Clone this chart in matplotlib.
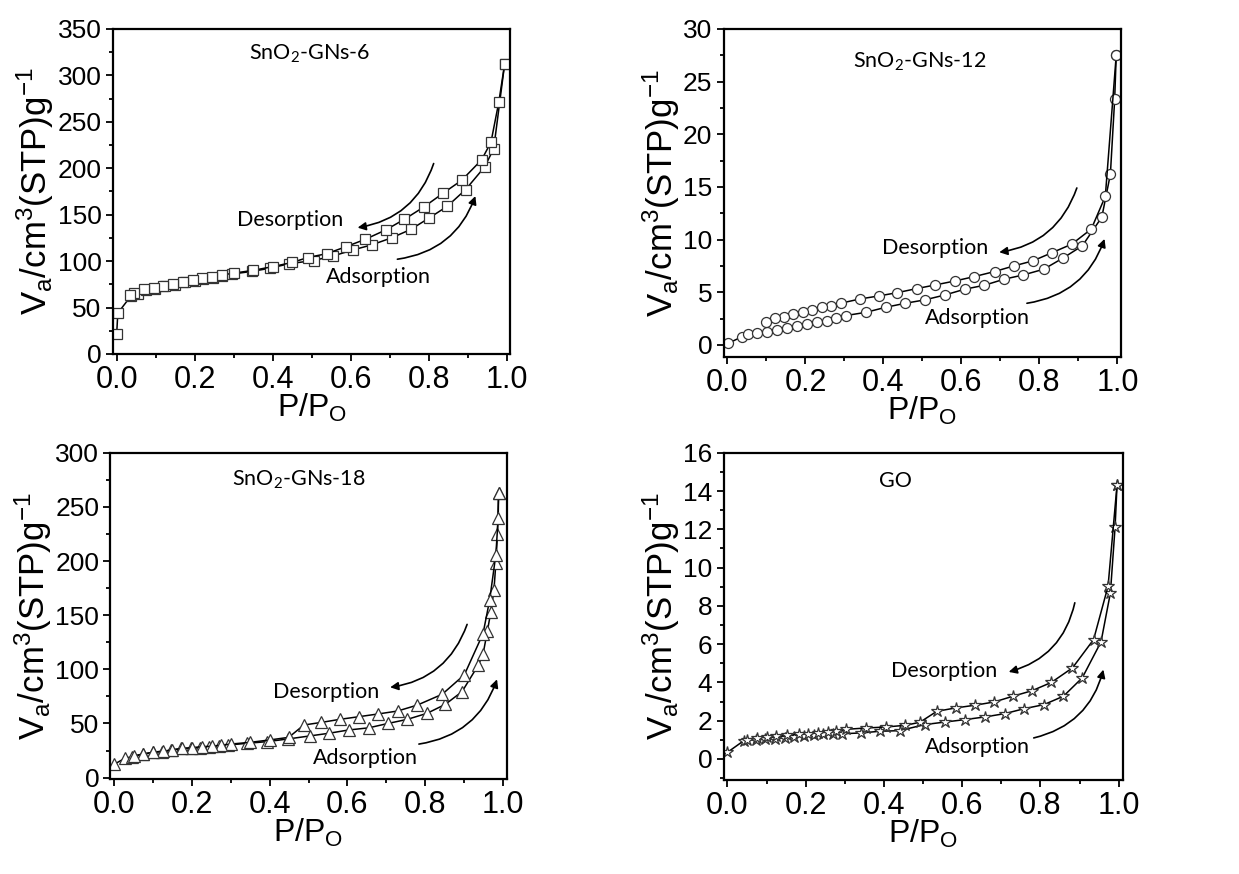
import matplotlib
matplotlib.use('Agg')
import matplotlib.pyplot as plt
from matplotlib.ticker import MultipleLocator

plt.rcParams['font.family'] = ['Liberation Sans', 'DejaVu Sans']
plt.rcParams['mathtext.default'] = 'regular'

# SnO2-GNs-6
ads6_p = [0.0, 0.003, 0.037, 0.054, 0.075, 0.098, 0.124, 0.15, 0.175, 0.2, 0.222, 0.246, 0.27, 0.295,
          0.346, 0.393, 0.443, 0.505, 0.556, 0.606, 0.654, 0.705, 0.754, 0.8, 0.848, 0.895, 0.944, 0.967, 0.995]
ads6_v = [21, 44, 62.6, 64.8, 68.4, 70, 72.7, 74.4, 77, 78.7, 80.5, 82.3, 84, 86,
          88.8, 92.3, 97.2, 100.6, 105.6, 112, 117.4, 125, 134, 146, 159, 177, 201.5, 221, 312]
des6_p = [0.995, 0.98, 0.96, 0.936, 0.885, 0.837, 0.787, 0.738, 0.69, 0.638, 0.589, 0.539, 0.49, 0.45,
          0.40, 0.35, 0.30, 0.27, 0.245, 0.22, 0.195, 0.17, 0.145, 0.12, 0.095, 0.07, 0.045, 0.035]
des6_v = [312, 271, 228, 209, 187, 173, 158, 145, 133.5, 123.5, 115.6, 108, 103.8, 98.5,
          94, 90, 87, 85, 83, 81.3, 79.5, 77.5, 75.5, 73.5, 71.5, 69.5, 66, 63.5]

# SnO2-GNs-12
ads12_p = [0.002, 0.038, 0.052, 0.075, 0.102, 0.128, 0.152, 0.179, 0.203, 0.229, 0.254, 0.278, 0.303,
           0.355, 0.406, 0.456, 0.506, 0.558, 0.608, 0.659, 0.709, 0.759, 0.811, 0.86, 0.91, 0.96,
           0.982, 0.993, 0.997]
ads12_v = [0.16, 0.8, 1.0, 1.17, 1.27, 1.43, 1.58, 1.8, 1.96, 2.2, 2.3, 2.53, 2.79,
           3.1, 3.58, 3.96, 4.28, 4.75, 5.29, 5.67, 6.24, 6.65, 7.19, 8.24, 9.41, 12.13,
           16.2, 23.3, 27.5]
des12_p = [0.997, 0.969, 0.933, 0.883, 0.833, 0.783, 0.734, 0.685, 0.633, 0.584, 0.533, 0.485,
           0.436, 0.389, 0.34, 0.29, 0.266, 0.242, 0.218, 0.194, 0.169, 0.145, 0.121, 0.098]
des12_v = [27.5, 14.1, 11.0, 9.57, 8.77, 7.98, 7.5, 6.97, 6.49, 6.08, 5.7, 5.35,
           4.97, 4.66, 4.37, 3.96, 3.74, 3.58, 3.33, 3.1, 2.91, 2.69, 2.53, 2.22]

# SnO2-GNs-18
ads18_p = [0.0, 0.027, 0.047, 0.075, 0.1, 0.123, 0.147, 0.173, 0.197, 0.22, 0.244, 0.269, 0.293,
           0.342, 0.392, 0.447, 0.503, 0.553, 0.603, 0.655, 0.704, 0.754, 0.805, 0.852, 0.895,
           0.937, 0.949, 0.96, 0.969, 0.977, 0.982, 0.986, 0.989]
ads18_v = [12.3, 17.8, 19.4, 21.5, 23.4, 24, 25.5, 27, 27, 27.7, 28.6, 29.5, 30.1,
           31.7, 33.2, 35.7, 38.5, 41, 44, 46, 50, 53.8, 59.4, 67.7, 79.4,
           104, 114, 135, 153, 173, 198, 225, 263]
des18_p = [0.989, 0.988, 0.982, 0.966, 0.949, 0.901, 0.844, 0.78, 0.729, 0.679, 0.63, 0.58, 0.533,
           0.488, 0.449, 0.40, 0.35, 0.30, 0.276, 0.252, 0.227, 0.2, 0.175, 0.15, 0.125, 0.1, 0.075, 0.05]
des18_v = [263, 240, 206, 164, 133, 95, 77, 67, 61.5, 58.8, 56.3, 53.8, 51,
           48.6, 37.2, 34.8, 32.6, 31, 30, 29, 28.6, 27.7, 27, 25.5, 24.5, 23.5, 22, 20]

# GO
adsGO_p = [0.0, 0.042, 0.072, 0.097, 0.122, 0.147, 0.171, 0.195, 0.22, 0.243, 0.269, 0.293, 0.342,
           0.39, 0.44, 0.505, 0.556, 0.608, 0.659, 0.709, 0.759, 0.809, 0.859, 0.907, 0.955, 0.979,
           0.991, 0.996]
adsGO_v = [0.35, 0.96, 1.01, 1.03, 1.05, 1.1, 1.13, 1.22, 1.24, 1.29, 1.32, 1.32, 1.36,
           1.45, 1.48, 1.8, 1.93, 2.06, 2.2, 2.37, 2.63, 2.84, 3.28, 4.24, 6.12, 8.68,
           12.13, 14.34]
desGO_p = [0.996, 0.973, 0.936, 0.882, 0.828, 0.779, 0.73, 0.682, 0.633, 0.584, 0.535, 0.492, 0.455,
           0.404, 0.355, 0.303, 0.278, 0.256, 0.232, 0.206, 0.182, 0.153, 0.125, 0.102, 0.076, 0.05]
desGO_v = [14.34, 9.03, 6.24, 4.76, 4.0, 3.57, 3.28, 2.98, 2.81, 2.67, 2.49, 1.92, 1.76,
           1.67, 1.62, 1.55, 1.45, 1.41, 1.36, 1.32, 1.29, 1.24, 1.18, 1.15, 1.1, 1.0]

panels = [
    dict(rect=[0.091, 0.595, 0.321, 0.372], ads=(ads6_p, ads6_v), des=(des6_p, des6_v),
         marker='s', ms=6.8, ylim=(0, 350), major=50, minor=25,
         name='SnO$_2$-GNs-6', name_xy=(0.495, 323),
         des_txt=(0.444, 144), ads_txt=(0.672, 82.7),
         des_arrow=((0.813, 205), (0.618, 136)), ads_arrow=((0.72, 102), (0.92, 170))),
    dict(rect=[0.584, 0.592, 0.321, 0.375], ads=(ads12_p, ads12_v), des=(des12_p, des12_v),
         marker='o', ms=7.2, ylim=(-1.1, 30), major=5, minor=2.5,
         name='SnO$_2$-GNs-12', name_xy=(0.492, 26.9),
         des_txt=(0.533, 9.19), ads_txt=(0.642, 2.53),
         des_arrow=((0.896, 14.9), (0.697, 8.8)), ads_arrow=((0.768, 3.96), (0.967, 10.07))),
    dict(rect=[0.089, 0.109, 0.320, 0.373], ads=(ads18_p, ads18_v), des=(des18_p, des18_v),
         marker='^', ms=8.5, ylim=(-1, 300), major=50, minor=25,
         name='SnO$_2$-GNs-18', name_xy=(0.476, 274.8),
         des_txt=(0.546, 79.4), ads_txt=(0.646, 17.8),
         des_arrow=((0.908, 141.5), (0.71, 83.4)), ads_arrow=((0.784, 31), (0.985, 90.8))),
    dict(rect=[0.584, 0.1075, 0.322, 0.3745], ads=(adsGO_p, adsGO_v), des=(desGO_p, desGO_v),
         marker='*', ms=9, ylim=(-1.1, 16), major=2, minor=1,
         name='GO', name_xy=(0.43, 14.52),
         des_txt=(0.554, 4.58), ads_txt=(0.638, 0.61),
         des_arrow=((0.888, 8.16), (0.719, 4.55)), ads_arrow=((0.783, 1.1), (0.961, 4.67))),
]

fig = plt.figure(figsize=(12.39, 8.74), dpi=100)

for p in panels:
    ax = fig.add_axes(p['rect'])
    for px, py in (p['ads'], p['des']):
        ax.plot(px, py, color='black', lw=1.1, marker=p['marker'], ms=p['ms'],
                mfc='white', mec='#333333', mew=0.9)
    ax.set_xlim(-0.01, 1.01)
    ax.set_ylim(*p['ylim'])
    ax.xaxis.set_major_locator(MultipleLocator(0.2))
    ax.xaxis.set_minor_locator(MultipleLocator(0.1))
    ax.yaxis.set_major_locator(MultipleLocator(p['major']))
    ax.yaxis.set_minor_locator(MultipleLocator(p['minor']))
    ax.tick_params(which='both', direction='out', top=False, right=False, width=1.3)
    ax.tick_params(which='major', length=5, pad=3)
    ax.tick_params(which='minor', length=3)
    ax.tick_params(axis='x', labelsize=22)
    ax.tick_params(axis='y', labelsize=19)
    for s in ax.spines.values():
        s.set_linewidth(1.6)
    ax.set_xlabel('P/P$_O$', fontsize=23, labelpad=-2)
    ax.set_ylabel('V$_a$/cm$^3$(STP)g$^{-1}$', fontsize=25, labelpad=1)

    ax.text(*p['name_xy'], p['name'], fontsize=15.5, family='Lato', ha='center', va='center')
    ax.text(*p['des_txt'], 'Desorption', fontsize=15.5, family='Lato', ha='center', va='center')
    ax.text(*p['ads_txt'], 'Adsorption', fontsize=15.5, family='Lato', ha='center', va='center')
    (s0, e0) = p['des_arrow']
    ax.annotate('', xy=e0, xytext=s0,
                arrowprops=dict(arrowstyle='-|>', color='black', lw=1.2, mutation_scale=12,
                                connectionstyle='arc3,rad=-0.3', shrinkA=0, shrinkB=0))
    (s1, e1) = p['ads_arrow']
    ax.annotate('', xy=e1, xytext=s1,
                arrowprops=dict(arrowstyle='-|>', color='black', lw=1.2, mutation_scale=12,
                                connectionstyle='arc3,rad=0.3', shrinkA=0, shrinkB=0))

fig.savefig('out.png', dpi=100)
